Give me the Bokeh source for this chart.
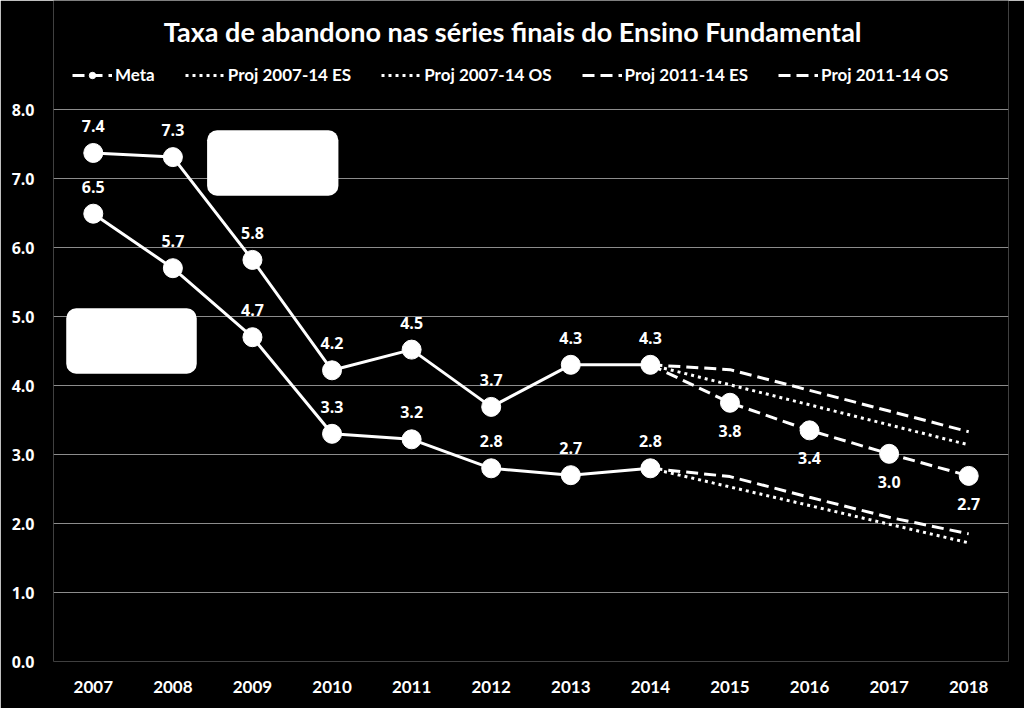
from bokeh.plotting import figure
from bokeh.models import (ColumnDataSource, Legend, LegendItem, FixedTicker,
                          NumeralTickFormatter, BoxAnnotation, Range1d, Label)
from bokeh.core.properties import value
from bokeh.embed import file_html
from bokeh.resources import INLINE

years = [2007, 2008, 2009, 2010, 2011, 2012, 2013, 2014, 2015, 2016, 2017, 2018]
hist_years = [2007, 2008, 2009, 2010, 2011, 2012, 2013, 2014]
es_values = [7.37, 7.31, 5.82, 4.22, 4.52, 3.69, 4.30, 4.30]
os_values = [6.49, 5.70, 4.70, 3.30, 3.22, 2.80, 2.70, 2.80]
meta_years = [2014, 2015, 2016, 2017, 2018]
meta_values = [4.30, 3.75, 3.35, 3.01, 2.69]
proj_years = [2014, 2015, 2016, 2017, 2018]
proj0714_es = [4.30, 4.01, 3.72, 3.43, 3.14]
proj0714_os = [2.80, 2.53, 2.26, 1.99, 1.72]
proj1114_es = [4.30, 4.23, 3.93, 3.63, 3.33]
proj1114_os = [2.80, 2.68, 2.38, 2.09, 1.85]
y_ticks = [0, 1, 2, 3, 4, 5, 6, 7, 8]
title_text = "Taxa de abandono nas séries finais do Ensino Fundamental"

WHITE = "white"
LABEL_FONT = value("Open Sans")

FRAME_H = 661
PX_PER_UNIT = 69.0
y_top = FRAME_H / PX_PER_UNIT  # extra room above 8.0 for title and legend

p = figure(frame_width=955, frame_height=FRAME_H, x_range=Range1d(2006.5, 2018.5),
           y_range=Range1d(0, y_top), output_backend="svg", toolbar_location=None,
           min_border_left=53, min_border_right=16, min_border_bottom=47,
           min_border_top=0, background_fill_color="black",
           border_fill_color="black", outline_line_color=None)

# title drawn inside the (extended) frame
p.add_layout(Label(x=2012.27, y=y_top - 31 / PX_PER_UNIT, text=title_text,
                   text_color=WHITE, text_font="Lato", text_font_size="27px",
                   text_font_style="bold", text_align="center",
                   text_baseline="middle"))

# axes
p.xaxis.ticker = FixedTicker(ticks=years)
p.yaxis.ticker = FixedTicker(ticks=y_ticks)
p.yaxis.formatter = NumeralTickFormatter(format="0.0")
for ax in (p.xaxis[0], p.yaxis[0]):
    ax.axis_line_color = None
    ax.major_tick_line_color = None
    ax.minor_tick_line_color = None
    ax.major_label_text_color = WHITE
    ax.major_label_text_font_style = "bold"
p.xaxis.major_label_text_font = "Lato"
p.xaxis.major_label_text_font_size = "17px"
p.yaxis.major_label_text_font = "Open Sans"
p.yaxis.major_label_text_font_size = "16px"
p.xaxis.major_label_standoff = 13
p.yaxis.major_label_standoff = 13
p.xgrid.grid_line_color = None
p.ygrid.grid_line_color = "#8c8c8c"
p.ygrid.grid_line_width = 1

# white boxes
p.add_layout(BoxAnnotation(left=2008.43, right=2010.08, top=7.70, bottom=6.75,
                           fill_color=WHITE, fill_alpha=1, line_color=None,
                           border_radius=10))
p.add_layout(BoxAnnotation(left=2006.66, right=2008.30, top=5.12, bottom=4.17,
                           fill_color=WHITE, fill_alpha=1, line_color=None,
                           border_radius=10))

# projections
r_p07es = p.line(proj_years, proj0714_es, line_color=WHITE, line_width=3, line_dash="3 4")
r_p07os = p.line(proj_years, proj0714_os, line_color=WHITE, line_width=3, line_dash="3 4")
r_p11es = p.line(proj_years, proj1114_es, line_color=WHITE, line_width=3, line_dash="12 6")
r_p11os = p.line(proj_years, proj1114_os, line_color=WHITE, line_width=3, line_dash="12 6")

# meta
r_meta_l = p.line(meta_years, meta_values, line_color=WHITE, line_width=3, line_dash="12 6")
r_meta_c = p.scatter(meta_years[1:], meta_values[1:], size=19, fill_color=WHITE, line_color=WHITE)

# history
p.line(hist_years, es_values, line_color=WHITE, line_width=3)
p.scatter(hist_years, es_values, size=19, fill_color=WHITE, line_color=WHITE)
p.line(hist_years, os_values, line_color=WHITE, line_width=3)
p.scatter(hist_years, os_values, size=19, fill_color=WHITE, line_color=WHITE)

# data labels
def fmt(vals):
    return ["%.1f" % v for v in vals]

for xs, ys, off in ((hist_years, es_values, -27), (hist_years, os_values, -27),
                    (meta_years[1:], meta_values[1:], 28)):
    src = ColumnDataSource(dict(x=xs, y=ys, t=fmt(ys)))
    p.text(x="x", y="y", text="t", source=src, y_offset=off, text_align="center",
           text_baseline="middle", text_color=WHITE, text_font=LABEL_FONT,
           text_font_size="16px", text_font_style="bold")

legend = Legend(items=[
    LegendItem(label="Meta", renderers=[r_meta_l, r_meta_c]),
    LegendItem(label="Proj 2007-14 ES", renderers=[r_p07es]),
    LegendItem(label="Proj 2007-14 OS", renderers=[r_p07os]),
    LegendItem(label="Proj 2011-14 ES", renderers=[r_p11es]),
    LegendItem(label="Proj 2011-14 OS", renderers=[r_p11os]),
], orientation="horizontal", location=(19, 576), background_fill_color="black",
    background_fill_alpha=1, border_line_color=None, label_text_color=WHITE,
    label_text_font="Lato", label_text_font_size="17px", label_text_font_style="bold",
    glyph_width=40, glyph_height=16, label_standoff=3, spacing=30, padding=4, margin=0)
p.add_layout(legend, "center")

open("out.html", "w").write(file_html(p, INLINE))
